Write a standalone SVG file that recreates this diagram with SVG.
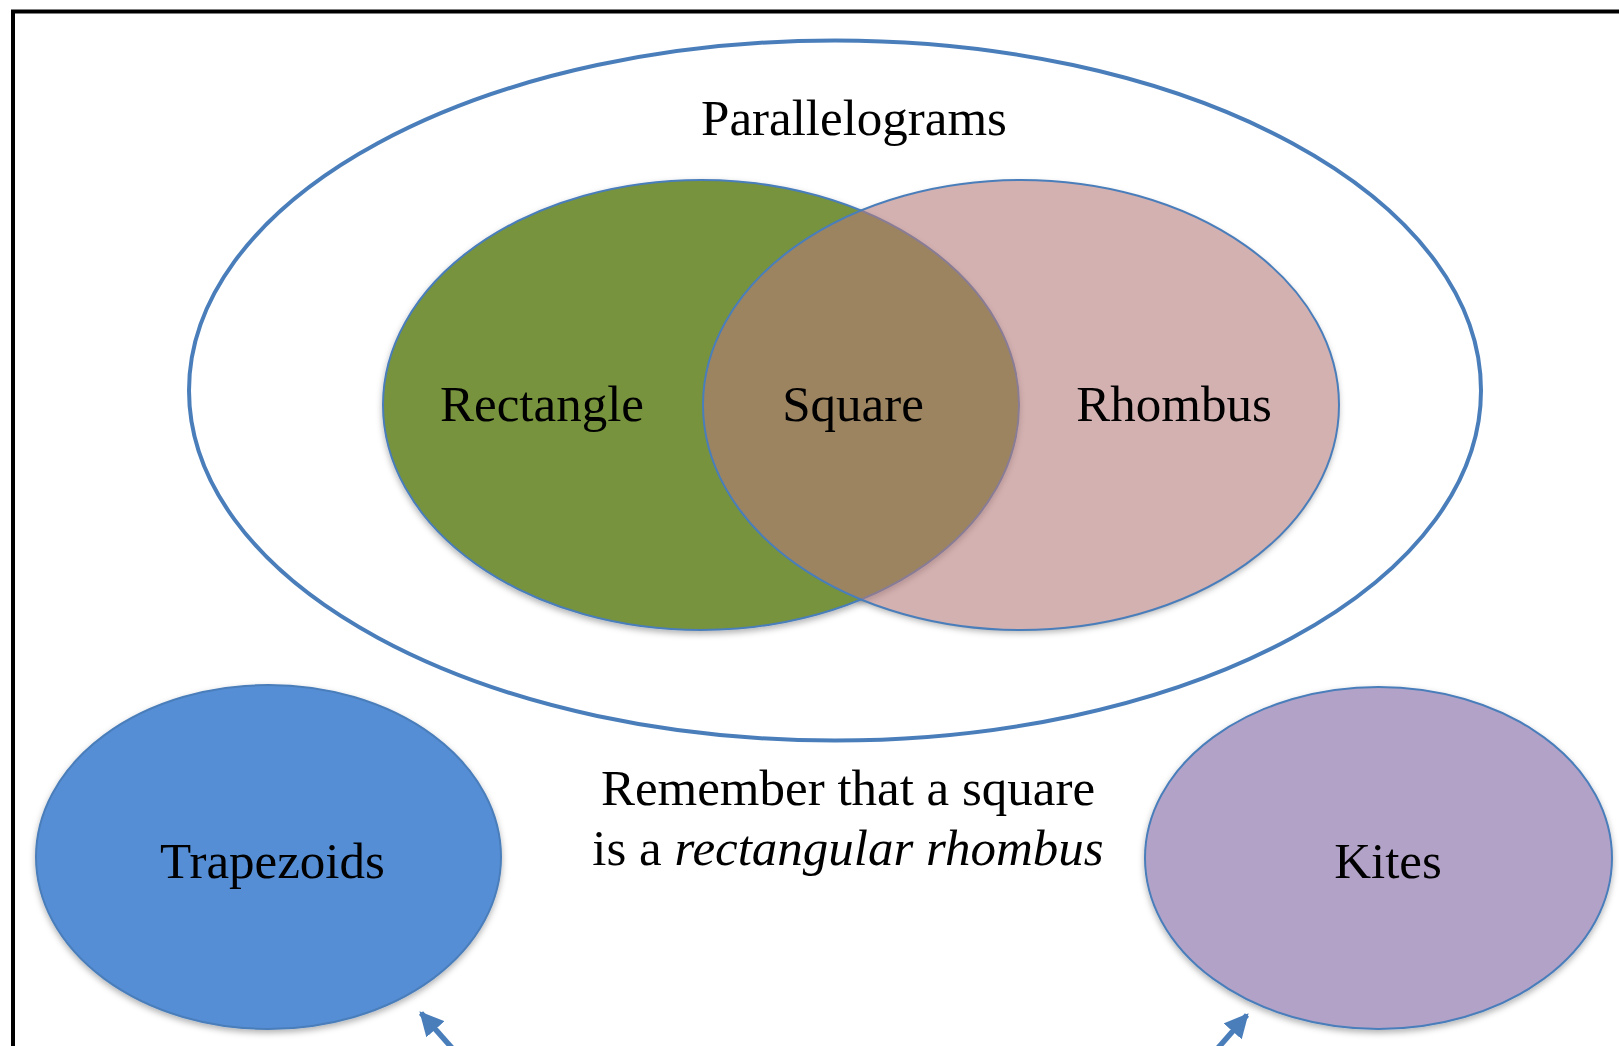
<svg xmlns="http://www.w3.org/2000/svg" width="1619" height="1046" viewBox="0 0 1619 1046">
<style>
text{font-family:"Liberation Serif","Times New Roman",serif;font-size:51px;fill:#000;text-anchor:middle}
.sh{filter:url(#ds)}
</style>
<defs>
<filter id="ds" x="-10%" y="-10%" width="120%" height="125%">
<feDropShadow dx="0" dy="3" stdDeviation="3" flood-color="#000" flood-opacity="0.3"/>
</filter>
<marker id="ah" viewBox="0 0 10 10" refX="9" refY="5" markerWidth="4.4" markerHeight="4.4" orient="auto" markerUnits="strokeWidth">
<path d="M0,0 L10,5 L0,10 z" fill="#4A7EBB"/>
</marker>
</defs>
<rect width="1619" height="1046" fill="#fff"/>
<path d="M13,1046 V11.5 H1619" fill="none" stroke="#000" stroke-width="4"/>
<g id="parallelograms">
<ellipse cx="835" cy="390.5" rx="646" ry="350" fill="none" stroke="#4A7EBB" stroke-width="4"/>
<text x="854" y="135">Parallelograms</text>
</g>
<ellipse class="sh" cx="1021" cy="405" rx="318" ry="225" fill="#fff"/>
<g id="rectangle">
<ellipse class="sh" cx="701" cy="405" rx="318" ry="225" fill="#77933C" stroke="#4A7EBB" stroke-width="2"/>
<text x="542" y="421">Rectangle</text>
</g>
<g id="rhombus">
<ellipse cx="1021" cy="405" rx="318" ry="225" fill="#B67B7B" fill-opacity="0.59" stroke="#4A7EBB" stroke-width="2"/>
<text x="1174" y="421">Rhombus</text>
</g>
<g id="square">
<text x="853" y="421">Square</text>
</g>
<g id="trapezoids">
<ellipse class="sh" cx="268.5" cy="857" rx="232.5" ry="172" fill="#558ED5" stroke="#4A7EBB" stroke-width="2"/>
<text x="272.5" y="878">Trapezoids</text>
</g>
<g id="kites">
<ellipse class="sh" cx="1378.5" cy="858" rx="233.5" ry="171" fill="#B3A2C7" stroke="#4A7EBB" stroke-width="2"/>
<text x="1388" y="878">Kites</text>
</g>
<g id="note">
<text x="848" y="805">Remember that a square</text>
<text x="848" y="865">is a <tspan font-style="italic">rectangular rhombus</tspan></text>
</g>
<g id="connectors" stroke="#4A7EBB" stroke-width="5.5" fill="none">
<line x1="452" y1="1048" x2="421" y2="1013" marker-end="url(#ah)"/>
<line x1="1218" y1="1048" x2="1247" y2="1015" marker-end="url(#ah)"/>
</g>
</svg>
